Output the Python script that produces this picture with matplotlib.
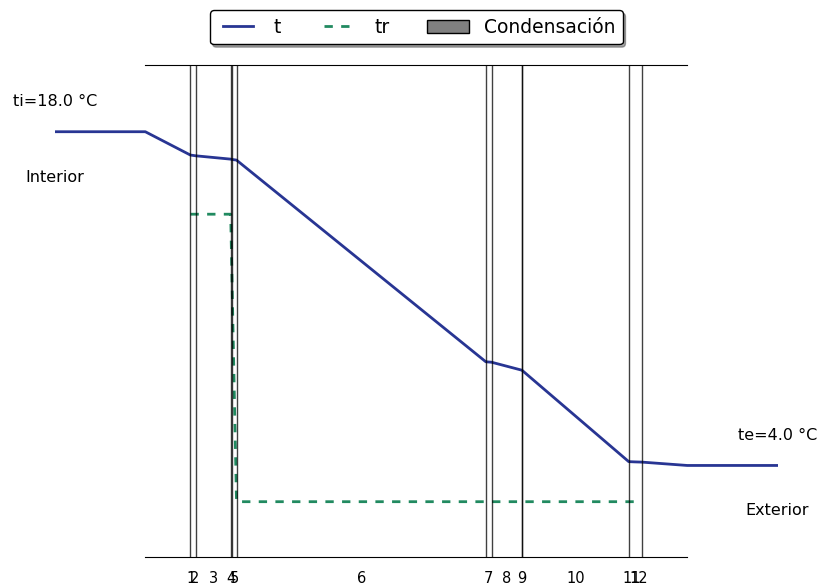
import matplotlib.pyplot as plt
import numpy as np
from matplotlib.patches import Patch

# capas del cerramiento (interior -> exterior), espesor en m
capas = ['1', '2', '3', '4', '5', '6', '7', '8', '9', '10', '11', '12']
espesores = [0.0012, 0.002, 0.021, 0.0005, 0.003, 0.15,
             0.0035, 0.018, 0.0005, 0.064, 0.0035, 0.0045]

t_int = 18.0
t_ext = 4.0
# temperatura en cada interfase (13 puntos)
t_interfases = [17.02, 17.01, 16.99, 16.85, 16.84, 16.81,
                8.35, 8.33, 8.00, 7.98, 4.16, 4.15, 4.14]
# temperatura de rocio en cada interfase
tr_interfases = [14.54, 14.54, 14.54, 14.54, 12.8, 2.48,
                 2.48, 2.48, 2.48, 2.48, 2.48, 2.48, 2.48]
# interfases con linea vertical
con_linea = [0, 2, 3, 4, 5, 6, 7, 8, 9, 10, 12]

COLOR_T = '#283593'
COLOR_TR = '#218a60'

x = np.concatenate([[0], np.cumsum(espesores)])
total = x[-1]
medios = (x[:-1] + x[1:]) / 2

fig = plt.figure(figsize=(8.32, 5.87), dpi=100)
ax = fig.add_axes([0.0661, 0.0503, 0.8684, 0.839])

xt = np.concatenate([[-0.3 * total, -0.1 * total], x, [1.1 * total, 1.3 * total]])
yt = np.concatenate([[t_int, t_int], t_interfases, [t_ext, t_ext]])
ax.plot(xt, yt, color=COLOR_T, lw=2, label='t')
ax.plot(x, tr_interfases, color=COLOR_TR, lw=2, ls=(0, (3, 3)), label='tr')

for i in con_linea:
    ax.axvline(x[i], color='k', lw=1, alpha=0.75)

ax.set_xlim(-0.3 * total, 1.3 * total)
ax.set_ylim(0.14, 20.8)
ax.set_yticks([])
ax.set_xticks(medios)
ax.set_xticklabels(capas, fontsize=10.5)
ax.tick_params(axis='x', length=0, pad=10)
ax.spines['left'].set_visible(False)
ax.spines['right'].set_visible(False)
ax.spines['top'].set_bounds(-0.1 * total, 1.1 * total)
ax.spines['bottom'].set_bounds(-0.1 * total, 1.1 * total)

ax.text(-0.3 * total, t_int + 1.25, f'ti={t_int:.1f} °C', ha='center', va='center',
        fontsize=11.5, clip_on=False)
ax.text(-0.3 * total, t_int - 1.9, 'Interior', ha='center', va='center',
        fontsize=11.5, clip_on=False)
ax.text(1.3 * total, t_ext + 1.25, f'te={t_ext:.1f} °C', ha='center', va='center',
        fontsize=11.5, clip_on=False)
ax.text(1.3 * total, t_ext - 1.9, 'Exterior', ha='center', va='center',
        fontsize=11.5, clip_on=False)

handles, labels = ax.get_legend_handles_labels()
handles.append(Patch(facecolor='gray', edgecolor='k', label='Condensación'))
labels.append('Condensación')
leg = ax.legend(handles, labels, loc='upper center', bbox_to_anchor=(0.5, 1.13),
                ncol=3, shadow=True, fancybox=True, fontsize=13.5, numpoints=2,
                handlelength=2.2, framealpha=1)
leg.get_frame().set_edgecolor('k')

fig.savefig('out.png', dpi=100)
